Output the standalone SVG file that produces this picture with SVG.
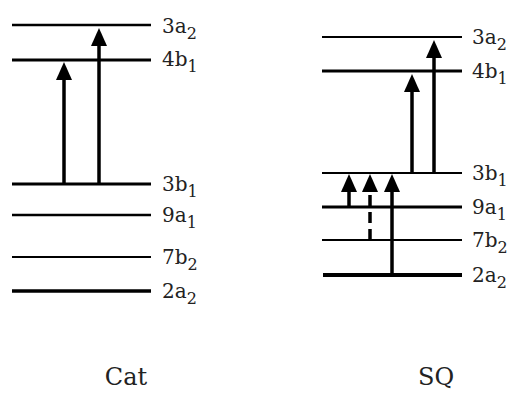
<svg xmlns="http://www.w3.org/2000/svg" width="516" height="399" viewBox="0 0 516 399">
<style>
.lvl{stroke:#000;fill:none}
.arr{stroke:#000;stroke-width:3.5;fill:none;marker-end:url(#head)}
.lab{font-family:"DejaVu Serif",serif;font-size:20px;fill:#222}
.sub{font-size:16px}
.title{font-family:"DejaVu Serif",serif;font-size:24px;fill:#222;text-anchor:middle}
</style>
<defs>
<marker id="head" markerUnits="userSpaceOnUse" markerWidth="18" markerHeight="16" viewBox="0 0 18 16" refX="8" refY="8" orient="auto">
<path d="M0,0 L18,8 L0,16 z" fill="#000"/>
</marker>
</defs>
<rect width="516" height="399" fill="#fff"/>
<g id="cat">
<g id="cat-3a2"><line class="lvl" x1="12" y1="25" x2="151" y2="25" stroke-width="2.5"/><text class="lab" x="162" y="33">3a<tspan class="sub" dy="6">2</tspan></text></g>
<g id="cat-4b1"><line class="lvl" x1="12" y1="60" x2="151" y2="60" stroke-width="3"/><text class="lab" x="162" y="66">4b<tspan class="sub" dy="6">1</tspan></text></g>
<g id="cat-3b1"><line class="lvl" x1="12" y1="184" x2="151" y2="184" stroke-width="3"/><text class="lab" x="162" y="191">3b<tspan class="sub" dy="6">1</tspan></text></g>
<g id="cat-9a1"><line class="lvl" x1="12" y1="215" x2="151" y2="215" stroke-width="2.5"/><text class="lab" x="162" y="222">9a<tspan class="sub" dy="6">1</tspan></text></g>
<g id="cat-7b2"><line class="lvl" x1="12" y1="257" x2="151" y2="257" stroke-width="2"/><text class="lab" x="162" y="264">7b<tspan class="sub" dy="6">2</tspan></text></g>
<g id="cat-2a2"><line class="lvl" x1="12" y1="291" x2="151" y2="291" stroke-width="3.5"/><text class="lab" x="162" y="298">2a<tspan class="sub" dy="6">2</tspan></text></g>
<text class="title" x="126" y="385">Cat</text>
</g>
<g id="sq">
<g id="sq-3a2"><line class="lvl" x1="322" y1="37" x2="462" y2="37" stroke-width="2"/><text class="lab" x="472" y="44">3a<tspan class="sub" dy="6">2</tspan></text></g>
<g id="sq-4b1"><line class="lvl" x1="322" y1="71" x2="462" y2="71" stroke-width="3"/><text class="lab" x="472" y="78">4b<tspan class="sub" dy="6">1</tspan></text></g>
<g id="sq-3b1"><line class="lvl" x1="322" y1="173" x2="462" y2="173" stroke-width="2"/><text class="lab" x="472" y="180">3b<tspan class="sub" dy="6">1</tspan></text></g>
<g id="sq-9a1"><line class="lvl" x1="322" y1="207" x2="462" y2="207" stroke-width="3"/><text class="lab" x="472" y="214">9a<tspan class="sub" dy="6">1</tspan></text></g>
<g id="sq-7b2"><line class="lvl" x1="322" y1="240" x2="462" y2="240" stroke-width="2"/><text class="lab" x="472" y="247">7b<tspan class="sub" dy="6">2</tspan></text></g>
<g id="sq-2a2"><line class="lvl" x1="323" y1="275" x2="462" y2="275" stroke-width="4"/><text class="lab" x="472" y="282">2a<tspan class="sub" dy="6">2</tspan></text></g>
<text class="title" x="436" y="385">SQ</text>
</g>
<g id="connectors">
<line class="arr" x1="64" y1="184" x2="64" y2="72"/>
<line class="arr" x1="99" y1="184" x2="99" y2="38"/>
<line class="arr" x1="412" y1="173" x2="412" y2="84"/>
<line class="arr" x1="434" y1="173" x2="434" y2="50"/>
<line class="arr" x1="349" y1="207" x2="349" y2="184"/>
<line class="arr" x1="370" y1="240" x2="370" y2="184" stroke-dasharray="11 6"/>
<line class="arr" x1="392" y1="275" x2="392" y2="184"/>
</g>
</svg>
